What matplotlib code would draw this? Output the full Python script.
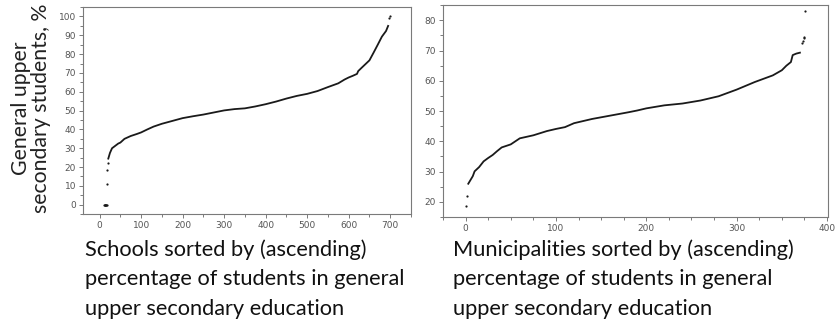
import matplotlib
matplotlib.use("Agg")
import matplotlib.pyplot as plt
from matplotlib.ticker import MultipleLocator

# --- data (rank, percent) ---
# schools: dense sorted curve
school_rank = [21, 23, 25, 28, 30, 36, 45, 50, 60, 75, 90, 100, 115, 130, 150, 175,
               200, 225, 250, 275, 300, 325, 350, 375, 400, 425, 450, 475, 500, 525,
               550, 575, 590, 600, 610, 620, 623, 630, 640, 650, 660, 670, 680, 690, 695]
school_pct = [24.5, 26, 27.5, 29, 30, 31, 32.5, 33, 35, 36.5, 37.6, 38.4, 40, 41.5, 43, 44.5,
              46, 47, 47.9, 49, 50.1, 50.8, 51.2, 52.2, 53.4, 54.8, 56.4, 57.8, 58.9, 60.4,
              62.5, 64.5, 66.5, 67.6, 68.5, 69.5, 71, 72.5, 74.6, 76.7, 80.8, 85, 89.3, 92.3, 95]
# schools: isolated points at the low and high ends
school_out_rank = [11, 12, 13, 14, 15, 16, 17, 18, 19, 20, 697, 699]
school_out_pct = [0, 0, 0, 0, 0, 0, 0, 11, 18.5, 22, 99, 100]

# municipalities: dense sorted curve
muni_rank = [3, 5, 8, 10, 15, 20, 25, 30, 35, 40, 50, 60, 75, 90, 100, 110, 120, 140,
             160, 180, 190, 200, 220, 240, 260, 280, 300, 320, 340, 350, 355, 360, 362,
             366, 370]
muni_pct = [26, 27, 28.5, 30.1, 31.5, 33.4, 34.5, 35.5, 36.8, 38, 39, 41, 42, 43.4, 44.1,
            44.7, 46, 47.4, 48.5, 49.6, 50.2, 50.9, 51.9, 52.5, 53.5, 54.9, 57.1, 59.6,
            61.8, 63.5, 65, 66.2, 68.5, 69, 69.3]
muni_out_rank = [1, 2, 372, 373, 374, 375, 376]
muni_out_pct = [18.7, 21.9, 72.5, 73.3, 74, 74.5, 83.1]

INK = "#1a1a1a"
SPINE = "#7a7a7a"
TICKLBL = "#555555"

plt.rcParams["font.family"] = ["Lato", "DejaVu Sans"]

fig = plt.figure(figsize=(8.38, 3.22), dpi=100)
ax1 = fig.add_axes([0.099, 0.335, 0.3914, 0.643])
ax2 = fig.add_axes([0.5286, 0.326, 0.4594, 0.658])


def style(ax, xmaj, xmin, ymaj, ymin):
    for s in ax.spines.values():
        s.set_color(SPINE)
        s.set_linewidth(0.8)
    ax.xaxis.set_major_locator(MultipleLocator(xmaj))
    ax.xaxis.set_minor_locator(MultipleLocator(xmin))
    ax.yaxis.set_major_locator(MultipleLocator(ymaj))
    ax.yaxis.set_minor_locator(MultipleLocator(ymin))
    ax.tick_params(which="both", direction="out", color=SPINE, width=0.7,
                   labelsize=6.5, labelcolor=TICKLBL, pad=2)
    ax.tick_params(which="major", length=3)
    ax.tick_params(which="minor", length=2)
    for lbl in ax.get_xticklabels() + ax.get_yticklabels():
        lbl.set_family("DejaVu Sans")


# left panel: schools
ax1.plot(school_rank, school_pct, "-", color=INK, lw=1.3)
ax1.plot(school_out_rank, school_out_pct, "o", color=INK, ms=1.6, mew=0)
ax1.set_xlim(-40, 750)
ax1.set_ylim(-5, 105)
style(ax1, 100, 50, 10, 5)

# right panel: municipalities
ax2.plot(muni_rank, muni_pct, "-", color=INK, lw=1.3)
ax2.plot(muni_out_rank, muni_out_pct, "o", color=INK, ms=1.6, mew=0)
ax2.set_xlim(-25, 401)
ax2.set_ylim(15, 85)
style(ax2, 100, 25, 10, 5)

fig.text(0.037, 0.665, "General upper\nsecondary students, %", rotation=90,
         ha="center", va="center", fontsize=15.3, color="#222222", linespacing=1.05)

fig.text(0.101, 0.257, "Schools sorted by (ascending)\npercentage of students in general\n"
         "upper secondary education", ha="left", va="top", fontsize=15.7,
         color="#111111", linespacing=1.6)
fig.text(0.540, 0.257, "Municipalities sorted by (ascending)\npercentage of students in general\n"
         "upper secondary education", ha="left", va="top", fontsize=15.7,
         color="#111111", linespacing=1.6)

fig.savefig("out.png", dpi=100)
